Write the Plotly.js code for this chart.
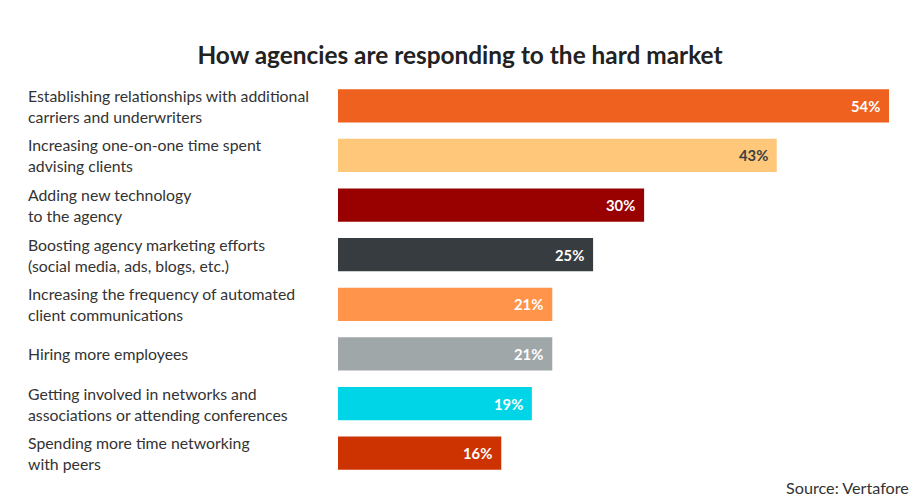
<!DOCTYPE html>
<html>
<head>
<meta charset="utf-8">
<script src="https://cdn.plot.ly/plotly-3.0.1.min.js"></script>
<style>html,body{margin:0;padding:0;background:#fff;}#chart{width:920px;height:503px;}</style>
</head>
<body>
<div id="chart"></div>
<script>
const categories = [
  "Establishing relationships with additional<br>carriers and underwriters",
  "Increasing one-on-one time spent<br>advising clients",
  "Adding new technology<br>to the agency",
  "Boosting agency marketing efforts<br>(social media, ads, blogs, etc.)",
  "Increasing the frequency of automated<br>client communications",
  "Hiring more employees",
  "Getting involved in networks and<br>associations or attending conferences",
  "Spending more time networking<br>with peers"
];
const values = [54, 43, 30, 25, 21, 21, 19, 16];
const valueLabels = ["54%", "43%", "30%", "25%", "21%", "21%", "19%", "16%"];
const barColors = ["#EE611E", "#FFC77A", "#990000", "#363C3F", "#FF944A", "#A0A7A8", "#00D5E8", "#CC3300"];
const labelColors = ["#ffffff", "#3a3f42", "#ffffff", "#ffffff", "#ffffff", "#ffffff", "#ffffff", "#ffffff"];
const titleText = "How agencies are responding to the hard market";
const sourceText = "Source: Vertafore";

const ids = categories.map((c, i) => "c" + i);

const trace = {
  type: "bar",
  orientation: "h",
  x: values,
  y: ids,
  width: 0.67,
  marker: {color: barColors, line: {width: 0}},
  hoverinfo: "skip"
};

const FONT = "Lato, 'Open Sans', sans-serif";
const annotations = [];
categories.forEach((c, i) => {
  annotations.push({
    xref: "paper", yref: "y", x: -0.5662, y: ids[i],
    xanchor: "left", yanchor: "middle", align: "left",
    text: c, showarrow: false,
    font: {family: FONT, size: 15.8, color: "#333333"}
  });
  annotations.push({
    xref: "x", yref: "y", x: values[i], y: ids[i],
    xanchor: "right", yanchor: "middle", xshift: -7,
    text: "<b>" + valueLabels[i] + "</b>", showarrow: false,
    font: {family: FONT, size: 14.8, color: labelColors[i]}
  });
});
annotations.push({
  xref: "paper", yref: "paper", x: 1.04, y: -0.023,
  xanchor: "right", yanchor: "middle",
  text: sourceText, showarrow: false,
  font: {family: FONT, size: 16.2, color: "#333333"}
});

const layout = {
  width: 920, height: 503,
  margin: {l: 338, r: 31, t: 81, b: 25},
  paper_bgcolor: "#ffffff", plot_bgcolor: "#ffffff",
  title: {
    text: "<b>" + titleText + "</b>",
    x: 0.5, xref: "container", xanchor: "center",
    y: 0.89, yref: "container", yanchor: "middle",
    font: {family: FONT, size: 24.4, color: "#222222"}
  },
  xaxis: {range: [0, 54], visible: false, fixedrange: true, domain: [0, 1]},
  yaxis: {type: "category", autorange: "reversed", visible: false, fixedrange: true},
  showlegend: false,
  annotations: annotations
};

Plotly.newPlot("chart", [trace], layout, {displayModeBar: false, staticPlot: true});
</script>
</body>
</html>
